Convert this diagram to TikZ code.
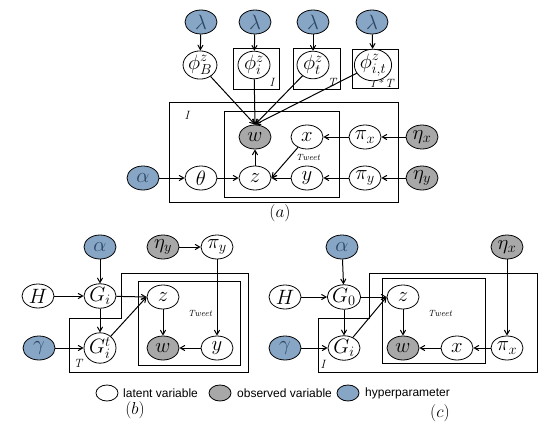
\documentclass[tikz,border=0pt]{standalone}
\usepackage{amsmath}
\usepackage{amssymb}
\usepackage{fontspec}
\newfontfamily\legendfont{Liberation Sans}
\usetikzlibrary{shapes.geometric, arrows}
\definecolor{hyperblue}{RGB}{135,165,196}
\definecolor{hypertext}{RGB}{45,70,100}
\definecolor{obsgray}{RGB}{168,168,168}
\tikzstyle{latent} = [ellipse,draw,thick,fill=white,minimum width=32pt,minimum height=24pt,inner sep=0pt,font=\fontsize{20}{22}\selectfont]
\tikzstyle{observed} = [latent,fill=obsgray]
\tikzstyle{hyper} = [latent,fill=hyperblue,text=hypertext]
\tikzstyle{plate} = [draw,semithick]
\tikzstyle{arrow} = [line width=1pt,->,>=angle 60]
\tikzstyle{platelabel} = [font=\itshape\fontsize{12}{13}\selectfont]
\tikzstyle{tweet} = [font=\itshape\fontsize{9}{10}\selectfont]
\tikzstyle{caption} = [font=\fontsize{17}{19}\selectfont]
\tikzstyle{key} = [ellipse,draw,thick,minimum width=22pt,minimum height=16pt,inner sep=0pt]
\tikzstyle{keytext} = [anchor=west,inner sep=0pt,font=\legendfont\fontsize{12}{14}\selectfont]

\begin{document}
\begin{tikzpicture}[x=1pt,y=-1pt]
  \useasboundingbox (0,0) rectangle (544,428);
  % (a)
  \draw[plate] (233,48) rectangle (279,89);
  \draw[plate] (293,48) rectangle (340,89);
  \draw[plate] (352,49) rectangle (398,88);
  \draw[plate] (169,102) rectangle (398,202);
  \draw[plate] (224,111) rectangle (339,197);
  \node[platelabel] at (272,82) {I};
  \node[platelabel] at (332,82) {T};
  \node[platelabel] at (382,83) {I\,*\,T};
  \node[platelabel] at (187,115) {I};
  \node[tweet] at (308,158) {Tweet};
  \node[hyper] (lamB) at (201,22) {$\lambda$};
  \node[hyper] (lamI) at (255,22) {$\lambda$};
  \node[hyper] (lamT) at (313,22) {$\lambda$};
  \node[hyper] (lamIT) at (372,22) {$\lambda$};
  \node[latent] (phiB) at (200,65) {$\phi_B^z$};
  \node[latent] (phiI) at (254,65) {$\phi_i^z$};
  \node[latent] (phiT) at (313,65) {$\phi_t^z$};
  \node[latent] (phiIT) at (373,65) {$\phi_{i,t}^z$};
  \node[observed] (aw) at (255,137) {$w$};
  \node[latent] (ax) at (307,137) {$x$};
  \node[latent] (az) at (255,178) {$z$};
  \node[latent] (ay) at (307,178) {$y$};
  \node[latent] (atheta) at (201,178) {$\theta$};
  \node[hyper] (aalpha) at (143,178) {$\alpha$};
  \node[latent] (apix) at (365,137) {$\pi_x$};
  \node[latent] (apiy) at (365,178) {$\pi_y$};
  \node[observed] (aetax) at (422,137) {$\eta_x$};
  \node[observed] (aetay) at (422,178) {$\eta_y$};
  \node[caption] at (280,213) {$(a)$};
  \draw[arrow] (lamB) -- (phiB);
  \draw[arrow] (lamI) -- (phiI);
  \draw[arrow] (lamT) -- (phiT);
  \draw[arrow] (lamIT) -- (phiIT);
  \draw[arrow] (phiB) -- (aw.north);
  \draw[arrow] (phiI) -- (aw.north);
  \draw[arrow] (phiT) -- (aw.north);
  \draw[arrow] (phiIT) -- (aw.north);
  \draw[arrow] (aalpha) -- (atheta);
  \draw[arrow] (atheta) -- (az);
  \draw[arrow] (az) -- (aw);
  \draw[arrow] (ax) -- (az.east);
  \draw[arrow] (ay) -- (az);
  \draw[arrow] (apix) -- (ax);
  \draw[arrow] (apiy) -- (ay);
  \draw[arrow] (aetax) -- (apix);
  \draw[arrow] (aetay) -- (apiy);
  % (b)
  \draw[plate] (121,273) -- (248,273) -- (248,372) -- (69,372) -- (69,318) -- (121,318) -- cycle;
  \draw[plate] (138,281) rectangle (240,365);
  \node[platelabel] at (78,363) {T};
  \node[tweet] at (200,314) {Tweet};
  \node[hyper] (balpha) at (100,247) {$\alpha$};
  \node[observed] (betay) at (163,247) {$\eta_y$};
  \node[latent] (bpiy) at (217,247) {$\pi_y$};
  \node[latent] (bH) at (38,296) {$H$};
  \node[latent] (bG) at (100,296) {$G_i$};
  \node[latent] (bz) at (163,297) {$z$};
  \node[hyper] (bgamma) at (39,348) {$\gamma$};
  \node[latent] (bGt) at (100,348) {$G_i^t$};
  \node[observed] (bw) at (163,348) {$w$};
  \node[latent] (by) at (217,348) {$y$};
  \node[caption] at (135,410) {$(b)$};
  \draw[arrow] (balpha) -- (bG);
  \draw[arrow] (bH) -- (bG);
  \draw[arrow] (bG) -- (bz.west);
  \draw[arrow] (bG) -- (bGt);
  \draw[arrow] (bgamma) -- (bGt);
  \draw[arrow] (bGt) -- (bz.west);
  \draw[arrow] (bz) -- (bw);
  \draw[arrow] (by) -- (bw);
  \draw[arrow] (betay) -- (bpiy);
  \draw[arrow] (bpiy) -- (by);
  % (c)
  \draw[plate] (369,273) -- (537,273) -- (537,372) -- (318,372) -- (318,318) -- (369,318) -- cycle;
  \draw[plate] (382,278) rectangle (485,363);
  \node[platelabel] at (323,364) {I};
  \node[tweet] at (440,314) {Tweet};
  \node[hyper] (calpha) at (342,247) {$\alpha$};
  \node[observed] (cetax) at (507,247) {$\eta_x$};
  \node[latent] (cH) at (285,297) {$H$};
  \node[latent] (cG) at (344,297) {$G_0$};
  \node[latent] (cz) at (403,297) {$z$};
  \node[hyper] (cgamma) at (285,348) {$\gamma$};
  \node[latent] (cGi) at (344,348) {$G_i$};
  \node[observed] (cw) at (403,348) {$w$};
  \node[latent] (cx) at (457,348) {$x$};
  \node[latent] (cpix) at (507,348) {$\pi_x$};
  \node[caption] at (440,413) {$(c)$};
  \draw[arrow] (calpha) -- (cG);
  \draw[arrow] (cH) -- (cG);
  \draw[arrow] (cG) -- (cz.west);
  \draw[arrow] (cG) -- (cGi);
  \draw[arrow] (cgamma) -- (cGi);
  \draw[arrow] (cGi) -- (cz.west);
  \draw[arrow] (cz) -- (cw);
  \draw[arrow] (cx) -- (cw);
  \draw[arrow] (cpix) -- (cx);
  \draw[arrow] (cetax) -- (cpix);
  % legend
  \node[key,fill=white] (kLatent) at (107,393) {};
  \node[keytext] (tLatent) at (123,393) {latent variable};
  \node[key,fill=obsgray] (kObs) at (220,393) {};
  \node[keytext] (tObs) at (237,393) {observed variable};
  \node[key,fill=hyperblue] (kHyper) at (348,393) {};
  \node[keytext] (tHyper) at (365,393) {hyperparameter};
\end{tikzpicture}
\end{document}
